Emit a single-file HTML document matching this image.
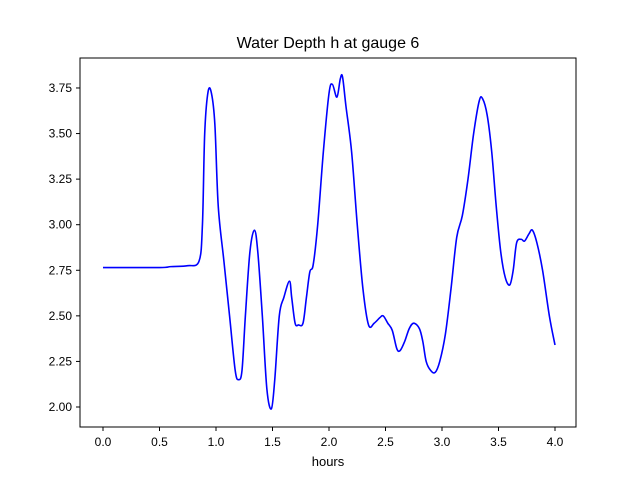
<!DOCTYPE html>
<html><head><meta charset="utf-8"><style>
body{margin:0;background:#fff;}
svg{display:block;font-family:"Liberation Sans",sans-serif;}
</style></head><body>
<svg id="chart" width="640" height="480">
<rect x="0" y="0" width="640" height="480" fill="#fff"/>
<text x="328" y="48" font-size="16" text-anchor="middle">Water Depth h at gauge 6</text>
<g id="xticks"></g>
<g id="yticks"></g>
<path id="line" fill="none" stroke="#0000ff" stroke-width="1.6"/>
<rect x="80" y="58" width="496" height="369" fill="none" stroke="#000" stroke-width="1"/>
<text x="328" y="466" font-size="13" text-anchor="middle">hours</text>
</svg>
<script>
const hours=[0,0.5,0.6,0.75,0.85,0.88,0.9,0.93,0.96,0.99,1.02,1.07,1.12,1.17,1.2,1.23,1.26,1.3,1.34,1.37,1.41,1.45,1.49,1.52,1.56,1.6,1.65,1.67,1.7,1.73,1.77,1.8,1.83,1.86,1.9,1.95,2.0,2.03,2.07,2.1,2.12,2.15,2.2,2.25,2.3,2.35,2.4,2.45,2.48,2.52,2.56,2.6,2.63,2.67,2.71,2.75,2.8,2.83,2.86,2.9,2.94,2.98,3.03,3.08,3.13,3.18,3.23,3.28,3.33,3.36,3.4,3.44,3.48,3.52,3.56,3.6,3.63,3.66,3.7,3.73,3.77,3.8,3.84,3.89,3.95,4.0];
const depth=[2.765,2.765,2.77,2.775,2.8,3.0,3.5,3.73,3.72,3.55,3.1,2.8,2.5,2.2,2.15,2.2,2.5,2.85,2.97,2.85,2.5,2.1,1.99,2.15,2.5,2.6,2.69,2.6,2.46,2.45,2.46,2.6,2.74,2.78,3.0,3.4,3.72,3.77,3.7,3.8,3.81,3.65,3.4,3.0,2.65,2.45,2.46,2.49,2.5,2.46,2.42,2.32,2.31,2.36,2.43,2.46,2.43,2.36,2.25,2.2,2.19,2.25,2.4,2.65,2.93,3.05,3.25,3.5,3.68,3.69,3.6,3.4,3.1,2.85,2.71,2.67,2.75,2.9,2.92,2.91,2.95,2.97,2.9,2.75,2.5,2.34];
const xTicks=[0,0.5,1,1.5,2,2.5,3,3.5,4];
const xTickLabels=["0.0","0.5","1.0","1.5","2.0","2.5","3.0","3.5","4.0"];
const yTicks=[2.0,2.25,2.5,2.75,3.0,3.25,3.5,3.75];
const yTickLabels=["2.00","2.25","2.50","2.75","3.00","3.25","3.50","3.75"];
const X=v=>103+v*113;
const Y=v=>407-(v-2)*182.3;
const ns="http://www.w3.org/2000/svg";
const xg=document.getElementById('xticks'),yg=document.getElementById('yticks');
xTicks.forEach((t,i)=>{
 const l=document.createElementNS(ns,'line');
 l.setAttribute('x1',X(t));l.setAttribute('x2',X(t));l.setAttribute('y1',427);l.setAttribute('y2',431);l.setAttribute('stroke','#000');
 
 
 xg.appendChild(l);
 const tx=document.createElementNS(ns,'text');
 tx.setAttribute('x',X(t));tx.setAttribute('y',446);tx.setAttribute('font-size','12');tx.setAttribute('text-anchor','middle');
 tx.textContent=xTickLabels[i];
 
 
 xg.appendChild(tx);
});
yTicks.forEach((t,i)=>{
 const l=document.createElementNS(ns,'line');
 l.setAttribute('x1',76);l.setAttribute('x2',80);l.setAttribute('y1',Y(t));l.setAttribute('y2',Y(t));l.setAttribute('stroke','#000');
 
 
 yg.appendChild(l);
 const tx=document.createElementNS(ns,'text');
 tx.setAttribute('x',72);tx.setAttribute('y',Y(t)+4);tx.setAttribute('font-size','12');tx.setAttribute('text-anchor','end');
 tx.textContent=yTickLabels[i];
 
 
 yg.appendChild(tx);
});
const pts=hours.map((h,i)=>[X(h),Y(depth[i])]);
let d='M'+pts[0][0]+','+pts[0][1];
for(let i=0;i<pts.length-1;i++){
 const p0=pts[Math.max(0,i-1)],p1=pts[i],p2=pts[i+1],p3=pts[Math.min(pts.length-1,i+2)];
 const c1=[p1[0]+(p2[0]-p0[0])/6,p1[1]+(p2[1]-p0[1])/6];
 const c2=[p2[0]-(p3[0]-p1[0])/6,p2[1]-(p3[1]-p1[1])/6];
 d+=' C'+c1[0]+','+c1[1]+' '+c2[0]+','+c2[1]+' '+p2[0]+','+p2[1];
}
document.getElementById('line').setAttribute('d',d);
</script>
</body></html>
